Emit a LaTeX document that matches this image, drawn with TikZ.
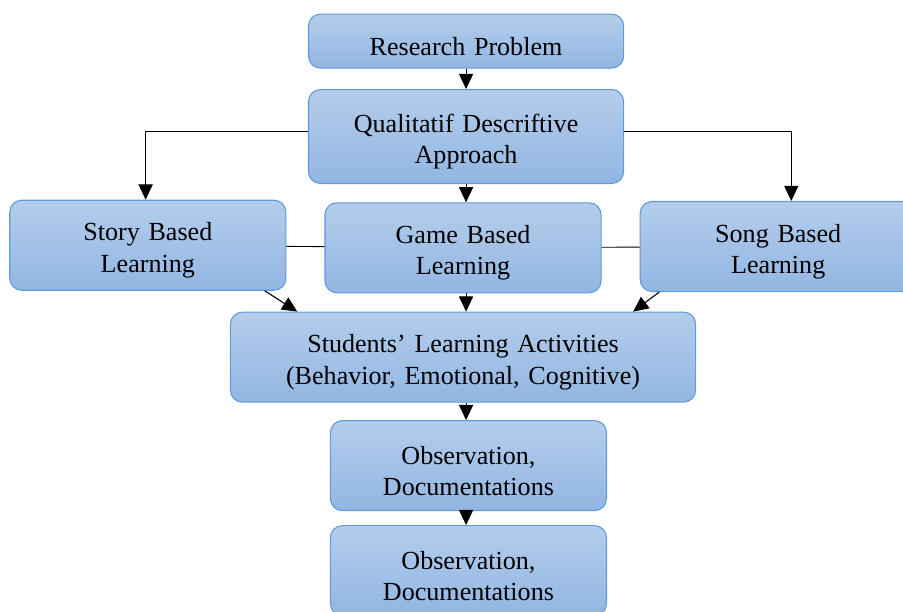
\documentclass[tikz,border=0pt]{standalone}
\usepackage{fontspec}
\setmainfont{Liberation Serif}
\usepackage{xcolor}
\usepackage{tikz}
\usetikzlibrary{arrows.meta, positioning}

\definecolor{boxtop}{RGB}{180,205,235}
\definecolor{boxbottom}{RGB}{146,182,226}
\definecolor{boxline}{RGB}{95,155,215}

\begin{document}
\begin{tikzpicture}[
  node distance=8.4pt and 17.5pt,
  box/.style={rectangle, draw=boxline, rounded corners=5.5pt, line width=0.5pt,
             top color=boxtop, bottom color=boxbottom,
             text width=120pt, minimum width=127pt, minimum height=41.4pt,
             align=center, inner sep=2pt, font=\fontsize{12}{14.3}\selectfont,
             execute at begin node={\rule{0pt}{13pt}}},
  widebox/.style={box, text width=140pt, minimum width=145pt},
  arrow/.style={-{Triangle[length=7pt, width=6.5pt]}, line width=0.5pt, color=black}
]
\useasboundingbox (0,0) rectangle (415.4pt,-281.5pt);

\node[widebox, minimum height=24.8pt, execute at begin node={\rule{0pt}{10.5pt}}] (problem) at (214.4pt,-18.9pt) {Research Problem};
\node[widebox, minimum height=43.2pt, below=9.4pt of problem] (approach) {Qualitatif Descriftive\\Approach};
\node[box, below=of approach, xshift=-1.4pt] (game) {Game Based\\Learning};
\node[box, left=of game, yshift=1.2pt] (story) {Story Based\\Learning};
\node[box, right=of game, yshift=0.6pt] (song) {Song Based\\Learning};
\node[box, text width=208pt, minimum width=214pt, below=of game] (activities) {Students’ Learning Activities\\(Behavior, Emotional, Cognitive)};
\node[box, below=8pt of activities, xshift=2.5pt] (observe) {Observation,\\Documentations};
\node[box, below=6.4pt of observe] (document) {Observation,\\Documentations};

\draw[arrow] (problem) -- (approach);
\draw[arrow] ([yshift=2.5pt]approach.west) -| ([xshift=-1pt]story.north);
\draw[arrow] ([yshift=2.5pt]approach.east) -| ([xshift=6pt]song.north);
\draw[arrow] (approach) -- (approach |- game.north);
\draw (story) -- (game);
\draw (game) -- (song);
\draw[arrow] ([xshift=-10pt]story.south east) -- ([xshift=31pt]activities.north west);
\draw[arrow] (game.south -| problem) -- (activities.north -| problem);
\draw[arrow] ([xshift=9pt]song.south west) -- ([xshift=-29pt]activities.north east);
\draw[arrow] (activities.south -| problem) -- (observe.north -| problem);
\draw[arrow] (observe.south -| problem) -- (document.north -| problem);

\end{tikzpicture}
\end{document}
